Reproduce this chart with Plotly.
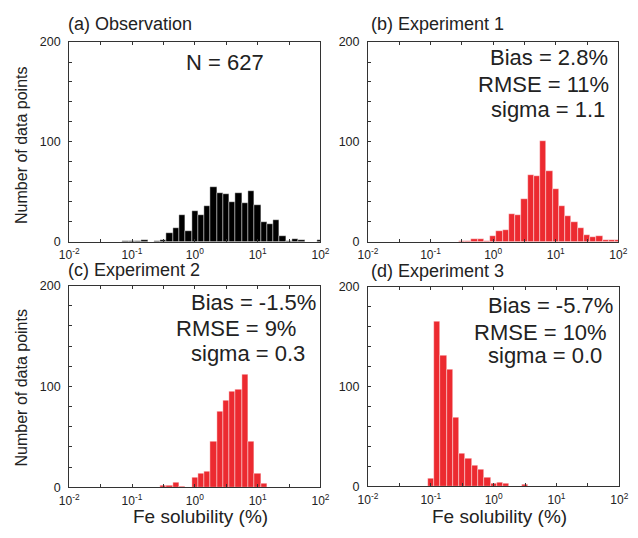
import plotly.graph_objects as go

W, H = 638, 538

# log10 of Fe solubility (%) at histogram bin centres
bin_centres = [-2.0, -1.9, -1.8, -1.7, -1.6, -1.5, -1.4, -1.3, -1.2, -1.1,
               -1.0, -0.9, -0.8, -0.7, -0.6, -0.5, -0.4, -0.3, -0.2, -0.1,
               0.0, 0.1, 0.2, 0.3, 0.4, 0.5, 0.6, 0.7, 0.8, 0.9,
               1.0, 1.1, 1.2, 1.3, 1.4, 1.5, 1.6, 1.7, 1.8, 1.9, 2.0]

obs_counts = [0, 0, 0, 0, 0, 0, 0, 0, 0, 1,
              1, 1, 2, 0, 1, 2, 9, 14, 27, 11,
              31, 27, 36, 55, 49, 48, 40, 49, 39, 51,
              37, 20, 18, 22, 6, 1, 3, 2, 0, 0, 2]

exp1_counts = [0, 0, 0, 0, 0, 0, 0, 0, 0, 0,
               0, 0, 0, 0, 0, 1, 1, 3, 3, 1,
               6, 11, 12, 28, 27, 43, 67, 66, 101, 71,
               53, 36, 26, 20, 14, 7, 5, 6, 2, 2, 2]

exp2_counts = [0, 0, 0, 0, 0, 0, 0, 0, 0, 0,
               0, 0, 0, 0, 0, 2, 2, 5, 1, 0,
               10, 14, 15, 45, 75, 86, 95, 97, 112, 45,
               14, 4, 0, 0, 0, 0, 0, 0, 0, 0, 0]

exp3_counts = [0, 0, 0, 0, 0, 0, 0, 0, 0, 0,
               8, 165, 131, 117, 69, 33, 28, 21, 17, 9,
               3, 4, 3, 0, 0, 2, 0, 0, 0, 0,
               0, 0, 0, 0, 0, 0, 0, 0, 0, 0, 0]

panel_titles = ["(a) Observation", "(b) Experiment 1", "(c) Experiment 2", "(d) Experiment 3"]
stats_text = [
    ["N = 627"],
    ["Bias = 2.8%", "RMSE = 11%", "sigma = 1.1"],
    ["Bias = -1.5%", "RMSE = 9%", "sigma = 0.3"],
    ["Bias = -5.7%", "RMSE = 10%", "sigma = 0.0"],
]
x_tick_vals = [-2, -1.5, -1, -0.5, 0, 0.5, 1, 1.5, 2]
x_tick_text = ["10<sup>-2</sup>", "", "10<sup>-1</sup>", "", "10<sup>0</sup>", "",
               "10<sup>1</sup>", "", "10<sup>2</sup>"]
y_tick_vals = [0, 20, 40, 60, 80, 100, 120, 140, 160, 180, 200]
y_tick_text = ["0", "", "", "", "", "100", "", "", "", "", "200"]
x_label = "Fe solubility (%)"
y_label = "Number of data points"

FONT = "Liberation Sans, Arial, Helvetica, sans-serif"
RED = "#EC2A30"
BLACK = "#000000"

def px(x):
    return x / W

def py(y):
    return 1 - y / H

# panel boxes in pixels: left, right, top, bottom
boxes = [(61, 320, 36, 241), (369, 627, 36, 241),
         (61, 320, 286, 493), (369, 628, 287, 492)]

series = [obs_counts, exp1_counts, exp2_counts, exp3_counts]
colors = [BLACK, RED, RED, RED]

fig = go.Figure()
layout = dict(width=W, height=H, margin=dict(l=0, r=0, t=0, b=0),
              paper_bgcolor="white", plot_bgcolor="white", showlegend=False,
              bargap=0, font=dict(family=FONT, color="#222"))

for i, (counts, col, box) in enumerate(zip(series, colors, boxes)):
    n = "" if i == 0 else str(i + 1)
    fig.add_trace(go.Bar(x=bin_centres, y=counts, width=0.1,
                         marker=dict(color=col, line=dict(color="rgba(255,255,255,0.7)", width=0.6)),
                         xaxis="x" + n, yaxis="y" + n, hoverinfo="x+y"))
    l, r, t, b = box
    layout["xaxis" + n] = dict(domain=[px(l), px(r)], anchor="y" + n, range=[-2, 2],
                               tickvals=x_tick_vals, ticktext=x_tick_text,
                               ticks="inside", ticklen=3, tickcolor="#333",
                               showline=True, linecolor="#333", linewidth=1, mirror="ticks",
                               showgrid=False, zeroline=False, ticklabelstandoff=2,
                               tickfont=dict(size=12, family=FONT, color="#222"))
    layout["yaxis" + n] = dict(domain=[py(b), py(t)], anchor="x" + n, range=[0, 200],
                               tickvals=y_tick_vals, ticktext=y_tick_text,
                               ticks="inside", ticklen=3, tickcolor="#333",
                               showline=True, linecolor="#333", linewidth=1, mirror=True,
                               showgrid=False, zeroline=False, ticklabelstandoff=5,
                               tickfont=dict(size=12.5, family=FONT, color="#222"))

annotations = []

def add_text(text, x, y_mid, size, xanchor="left", angle=0):
    annotations.append(dict(text=text, x=px(x), y=py(y_mid), xref="paper", yref="paper",
                            xanchor=xanchor, yanchor="middle", showarrow=False,
                            textangle=angle, borderpad=0,
                            font=dict(size=size, family=FONT, color="#222")))

# panel titles (left x, baseline y)
title_pos = [(59, 24), (371, 24), (59, 276.5), (371, 277)]
for txt, (x, base) in zip(panel_titles, title_pos):
    add_text(txt, x, base - 0.35 * 18, 18)

# statistics text (left x, baseline y)
stats_pos = [
    [(180, 65)],
    [(494, 59.5), (481, 87.5), (495, 112.5)],
    [(185.5, 311), (170.5, 338), (185.5, 363)],
    [(491.5, 314), (477.5, 342), (491.5, 366)],
]
for lines, poss in zip(stats_text, stats_pos):
    for txt, (x, base) in zip(lines, poss):
        add_text(txt, x, base - 0.35 * 22, 22)

# axis labels
add_text(y_label, 12, 142, 16, xanchor="center", angle=-90)
add_text(y_label, 12, 391, 16, xanchor="center", angle=-90)
add_text(x_label, 196, 530 - 0.35 * 19, 19, xanchor="center")
add_text(x_label, 505, 530 - 0.35 * 19, 19, xanchor="center")

layout["annotations"] = annotations
fig.update_layout(**layout)
fig.write_html("out.html", config={"displayModeBar": False},
               post_script="document.body.style.margin='0px';")
